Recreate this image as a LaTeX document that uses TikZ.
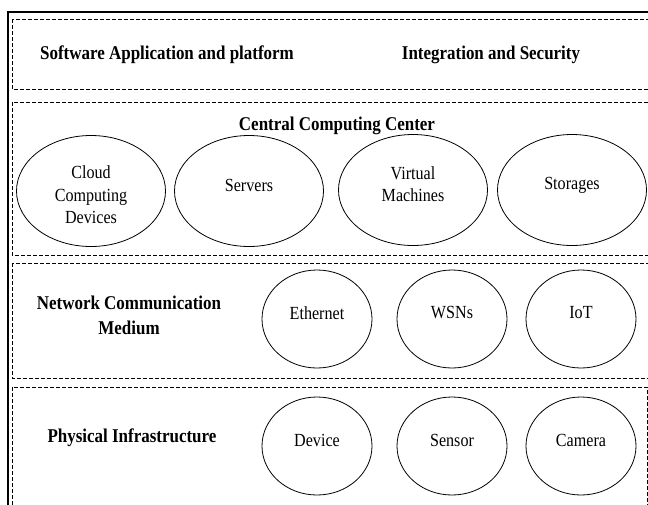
\documentclass[tikz,border=0pt]{standalone}
\usepackage{fontspec}
% Times-metric serif, set slightly narrow so the letters stand tall
\setmainfont[FakeStretch=0.87]{Liberation Serif}
\usetikzlibrary{shapes.geometric}

\tikzset{
  band/.style={draw, line width=0.8pt, dash pattern=on 4pt off 2pt},
  frame/.style={draw, line width=1.8pt},
  title/.style={font=\fontsize{19.5}{25}\selectfont\bfseries, align=center, inner sep=0pt},
  bigoval/.style={draw, ellipse, line width=0.8pt, minimum width=149pt, minimum height=111pt, inner sep=0pt},
  smalloval/.style={draw, ellipse, line width=0.8pt, minimum width=110pt, minimum height=98pt, inner sep=0pt},
  oval text/.style={font=\fontsize{18.5}{22.5}\selectfont, align=center, inner sep=0pt}
}

\begin{document}
\begin{tikzpicture}[x=1pt, y=-1pt]
  \useasboundingbox (0,0) rectangle (648,504);
  \clip (0,0) rectangle (648,504);

  % outer frame (open towards the right and bottom edges)
  \draw[frame] (8,520) -- (8,12) -- (660,12);

  % layer bands
  \draw[band] (12,19) rectangle (660,89);
  \draw[band] (12,102) rectangle (660,255);
  \draw[band] (12,263) rectangle (660,378);
  \draw[band] (12,387) rectangle (647,520);

  % application layer
  \node[title] (app) at (167,55) {Software Application and platform};
  \node[title] (sec) at (491,55) {Integration and Security};

  % central computing layer
  \node[title] (ccc) at (337,126) {Central Computing Center};
  \node[bigoval] (cloud) at (91,191) {};
  \node[bigoval] (srv) at (249,191) {};
  \node[bigoval] (vm) at (413,190) {};
  \node[bigoval] (sto) at (572,190) {};
  \node[oval text] (cloudT) at (91,195) {Cloud\\Computing\\Devices};
  \node[oval text] (srvT) at (249,185) {Servers};
  \node[oval text] (vmT) at (413,184) {Virtual\\Machines};
  \node[oval text] (stoT) at (572,185) {Storages};

  % network layer
  \node[title] (net) at (129,315) {Network Communication\\Medium};
  \node[smalloval] (eth) at (317,319) {};
  \node[smalloval] (wsn) at (452,319) {};
  \node[smalloval] (iot) at (581,319) {};
  \node[oval text] (ethT) at (317,313) {Ethernet};
  \node[oval text] (wsnT) at (452,313) {WSNs};
  \node[oval text] (iotT) at (581,313) {IoT};

  % physical layer
  \node[title] (phy) at (132,438) {Physical Infrastructure};
  \node[smalloval] (dev) at (317,446) {};
  \node[smalloval] (sen) at (452,446) {};
  \node[smalloval] (cam) at (581,446) {};
  \node[oval text] (devT) at (317,440) {Device};
  \node[oval text] (senT) at (452,440) {Sensor};
  \node[oval text] (camT) at (581,440) {Camera};
\end{tikzpicture}
\end{document}
